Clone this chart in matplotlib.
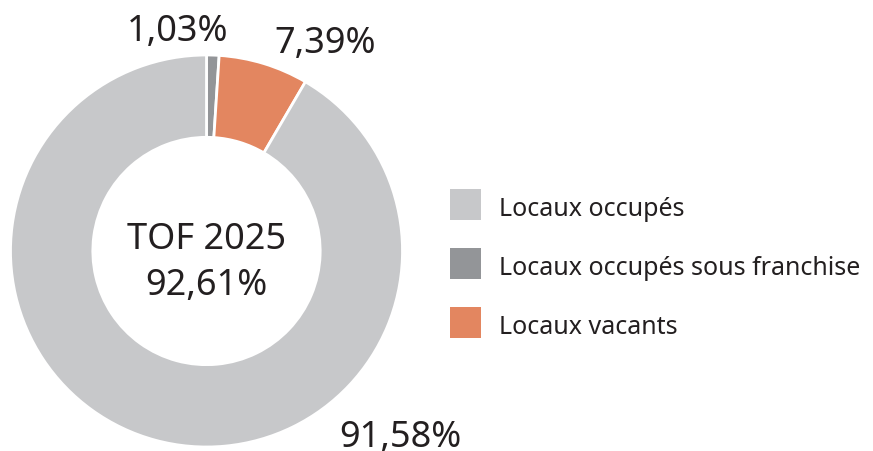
import matplotlib.pyplot as plt
from matplotlib.patches import Rectangle

plt.rcParams["font.family"] = ["Noto Sans", "DejaVu Sans"]

# data (clockwise from 12 o'clock)
labels = ["Locaux occupés sous franchise", "Locaux vacants", "Locaux occupés"]
values = [1.03, 7.39, 91.58]
value_text = ["1,03%", "7,39%", "91,58%"]
colors = ["#939598", "#e38660", "#c7c8ca"]
center_title = "TOF 2025"
center_value = "92,61%"

legend_order = ["Locaux occupés", "Locaux occupés sous franchise", "Locaux vacants"]

# label baselines (data units, donut radius = 1)
label_pos = [(-0.15, 1.077), (0.605, 1.015), (0.987, -0.995)]

TEXT = "#231f20"

W, H = 873, 452
fig = plt.figure(figsize=(W / 100, H / 100), dpi=100)
ax = fig.add_axes([10.5 / W, 4 / H, 392 / W, 392 / H])

ax.pie(values, colors=colors, startangle=90, counterclock=False, radius=1,
       wedgeprops=dict(width=0.42, edgecolor="white", linewidth=2))
ax.set_xlim(-1, 1)
ax.set_ylim(-1, 1)
ax.set_aspect("equal")
ax.axis("off")

for (x, y), t in zip(label_pos, value_text):
    ax.text(x, y, t, ha="center", va="baseline", fontsize=26, color=TEXT, clip_on=False)

ax.text(0, 0.015, center_title, ha="center", va="baseline", fontsize=26, color=TEXT)
ax.text(0, -0.219, center_value, ha="center", va="baseline", fontsize=26, color=TEXT)

# legend, laid out in pixel coordinates
lax = fig.add_axes([0, 0, 1, 1])
lax.set_xlim(0, W)
lax.set_ylim(H, 0)
lax.axis("off")
for i, name in enumerate(legend_order):
    top = 190 + i * 59
    lax.add_patch(Rectangle((450, top), 31, 31, facecolor=colors[labels.index(name)],
                            edgecolor="none"))
    lax.text(499, top + 26.5, name, ha="left", va="baseline", fontsize=18, color=TEXT)

fig.savefig("out.png", dpi=100)
